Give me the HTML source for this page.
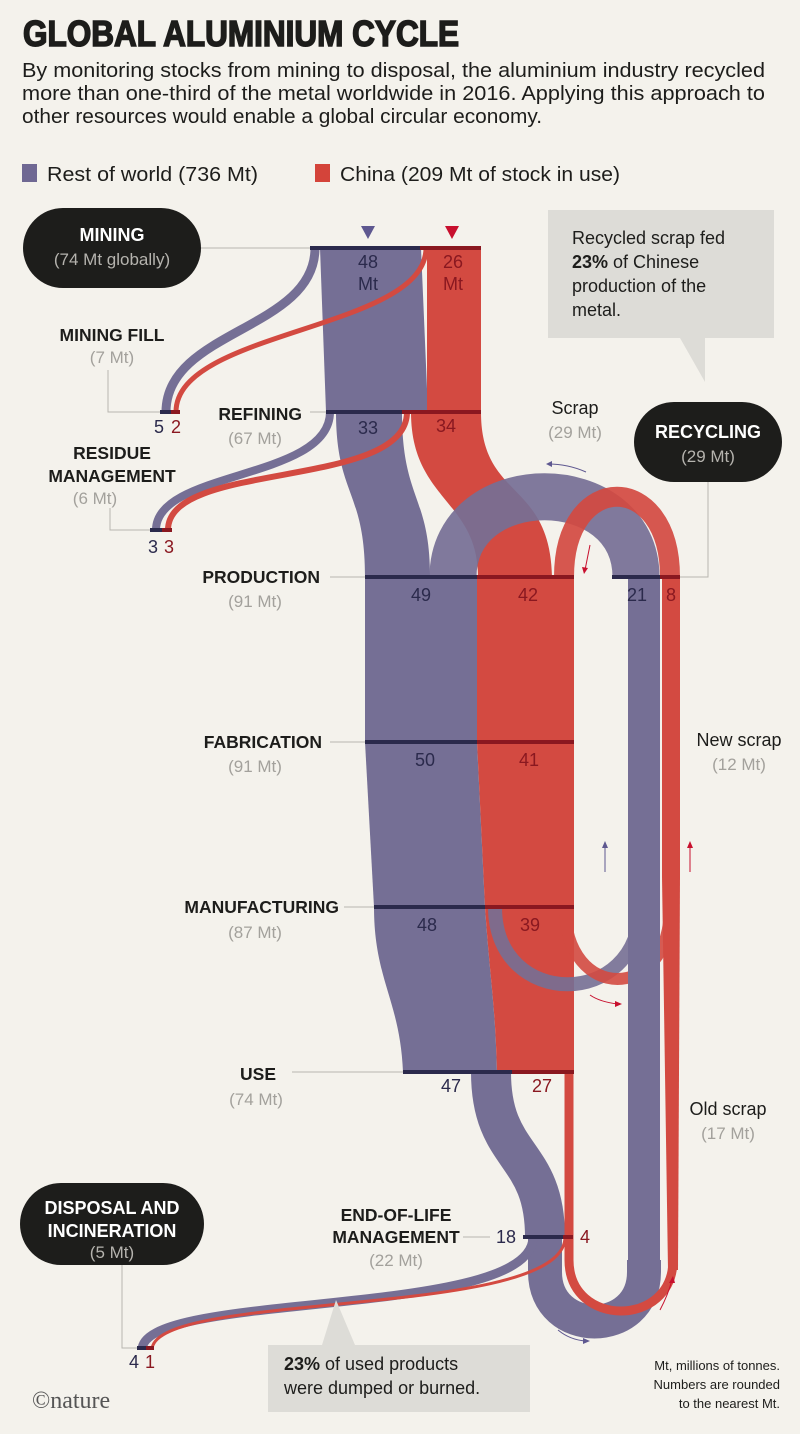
<!DOCTYPE html>
<html><head><meta charset="utf-8"><style>
html,body{margin:0;padding:0;background:#f4f2ec;}
svg{display:block;}
text{font-family:"Liberation Sans Narrow","Liberation Sans",sans-serif;}
.t{font-size:20px;fill:#1d1d1b;}
.b{font-family:"Liberation Sans",sans-serif;font-weight:bold;font-size:17.5px;fill:#1d1d1b;}
.g{font-family:"Liberation Sans",sans-serif;font-size:17px;fill:#a3a19c;}
.w{font-family:"Liberation Sans",sans-serif;font-weight:bold;font-size:18px;fill:#fff;}
.wg{font-family:"Liberation Sans",sans-serif;font-size:17px;fill:#b5b3ae;}
.np{font-family:"Liberation Sans",sans-serif;font-size:18px;fill:#2b2a4c;}
.nr{font-family:"Liberation Sans",sans-serif;font-size:18px;fill:#8a1820;}
.c{font-family:"Liberation Sans",sans-serif;font-size:18px;fill:#1d1d1b;}
</style></head><body>
<svg width="800" height="1434" viewBox="0 0 800 1434" xmlns="http://www.w3.org/2000/svg">
<rect width="800" height="1434" fill="#f4f2ec"/>
<text x="23" y="46" textLength="436" lengthAdjust="spacingAndGlyphs" stroke="#1d1d1b" stroke-width="1.6" style="font-weight:bold;font-size:36px;fill:#1d1d1b">GLOBAL ALUMINIUM CYCLE</text>
<text class="t" x="22" y="77" textLength="743" lengthAdjust="spacingAndGlyphs">By monitoring stocks from mining to disposal, the aluminium industry recycled</text>
<text class="t" x="22" y="100" textLength="743" lengthAdjust="spacingAndGlyphs">more than one-third of the metal worldwide in 2016. Applying this approach to</text>
<text class="t" x="22" y="123" textLength="520" lengthAdjust="spacingAndGlyphs">other resources would enable a global circular economy.</text>
<rect x="22" y="164" width="15" height="18" fill="#6f6893"/>
<text class="t" x="47" y="181" textLength="211" lengthAdjust="spacingAndGlyphs">Rest of world (736 Mt)</text>
<rect x="315" y="164" width="15" height="18" fill="#d4443a"/>
<text class="t" x="340" y="181" textLength="280" lengthAdjust="spacingAndGlyphs">China (209 Mt of stock in use)</text>

<g stroke="#b8b6b0" stroke-width="1" fill="none">
<line x1="200" y1="248" x2="310" y2="248"/>
<polyline points="108,370 108,412 160,412"/>
<line x1="310" y1="412" x2="326" y2="412"/>
<polyline points="110,508 110,530 150,530"/>
<line x1="330" y1="577" x2="365" y2="577"/>
<line x1="330" y1="742" x2="365" y2="742"/>
<line x1="344" y1="907" x2="374" y2="907"/>
<line x1="292" y1="1072" x2="403" y2="1072"/>
<line x1="463" y1="1237" x2="490" y2="1237"/>
<polyline points="122,1265 122,1348 137,1348"/>
<polyline points="680,577 708,577 708,482"/>
</g>

<g>
<path d="M315,248 C315,330 166,330 166,412" stroke="#756f95" stroke-width="9" fill="none"/>
<path d="M330,412 C330,480 156,470 156,530" stroke="#756f95" stroke-width="8" fill="none"/>
<path d="M320,248 L421,248 L428,412 L326,412 Z" fill="#756f95"/>
<path d="M427,248 L481,248 L481,412 L427,412 Z" fill="#d34a41"/>
<path d="M336,412 L402,412 C402,500 430,495 430,577 L365,577 C365,490 336,495 336,412 Z" fill="#756f95"/>
<path d="M411,412 L481,412 C481,500 550,480 552,577 L478,577 C478,500 411,500 411,412 Z" fill="#d34a41"/>
<path d="M426,248 C426,330 176,330 176,412" stroke="#d34a41" stroke-width="5" fill="none"/>
<path d="M407,412 C407,490 168,460 168,530" stroke="#d34a41" stroke-width="6" fill="none"/>
<path d="M636,577 C636,470 453,470 453,577" stroke="#756f95" stroke-width="47" fill="none" opacity="0.92"/>
<path d="M670,577 C670,470 564,470 564,577" stroke="#d34a41" stroke-width="20" fill="none" opacity="0.92"/>
<rect x="365" y="577" width="112" height="165" fill="#756f95"/>
<rect x="477" y="577" width="97" height="165" fill="#d34a41"/>
<path d="M365,742 L477,742 L485,907 L374,907 Z" fill="#756f95"/>
<path d="M477,742 L574,742 L574,907 L485,907 Z" fill="#d34a41"/>
<path d="M374,907 L485,907 C490,980 495,1000 497,1072 L403,1072 C400,1000 374,980 374,907 Z" fill="#756f95"/>
<path d="M485,907 L574,907 L574,1072 L497,1072 C495,1000 490,980 485,907 Z" fill="#d34a41"/>
<path d="M495,907 C495,1010 640,1010 640,907" stroke="#756f95" stroke-width="14" fill="none" opacity="0.9"/>
<path d="M565,907 C565,1003 670,1003 670,907" stroke="#d34a41" stroke-width="12" fill="none" opacity="0.9"/>
<rect x="628" y="577" width="32" height="700" fill="#756f95"/>
<rect x="662" y="577" width="18" height="300" fill="#d34a41"/>
<path d="M662,877 L680,877 L678,1270 L668,1270 Z" fill="#d34a41"/>
<path d="M491,1072 C491,1160 545,1150 545,1237" stroke="#756f95" stroke-width="40" fill="none"/>
<path d="M545,1230 L545,1272 C545,1338 644,1338 644,1272 L644,1260" stroke="#756f95" stroke-width="34" fill="none"/>
<path d="M569,1072 L569,1260 C569,1328 673,1328 673,1260" stroke="#d34a41" stroke-width="9" fill="none"/>
<path d="M533,1237 C533,1320 142,1290 142,1350" stroke="#756f95" stroke-width="9" fill="none"/>
<path d="M565,1237 C565,1320 152,1290 152,1350" stroke="#d34a41" stroke-width="3" fill="none"/>
</g>

<g stroke-width="4">
<line x1="310" y1="248" x2="420" y2="248" stroke="#2b2a4c"/>
<line x1="420" y1="248" x2="481" y2="248" stroke="#8a1820"/>
<line x1="160" y1="412" x2="171" y2="412" stroke="#2b2a4c"/>
<line x1="171" y1="412" x2="180" y2="412" stroke="#8a1820"/>
<line x1="326" y1="412" x2="402" y2="412" stroke="#2b2a4c"/>
<line x1="402" y1="412" x2="481" y2="412" stroke="#8a1820"/>
<line x1="150" y1="530" x2="162" y2="530" stroke="#2b2a4c"/>
<line x1="162" y1="530" x2="172" y2="530" stroke="#8a1820"/>
<line x1="365" y1="577" x2="477" y2="577" stroke="#2b2a4c"/>
<line x1="477" y1="577" x2="574" y2="577" stroke="#8a1820"/>
<line x1="612" y1="577" x2="660" y2="577" stroke="#2b2a4c"/>
<line x1="660" y1="577" x2="680" y2="577" stroke="#8a1820"/>
<line x1="365" y1="742" x2="477" y2="742" stroke="#2b2a4c"/>
<line x1="477" y1="742" x2="574" y2="742" stroke="#8a1820"/>
<line x1="374" y1="907" x2="485" y2="907" stroke="#2b2a4c"/>
<line x1="485" y1="907" x2="574" y2="907" stroke="#8a1820"/>
<line x1="403" y1="1072" x2="512" y2="1072" stroke="#2b2a4c"/>
<line x1="512" y1="1072" x2="574" y2="1072" stroke="#8a1820"/>
<line x1="523" y1="1237" x2="563" y2="1237" stroke="#2b2a4c"/>
<line x1="563" y1="1237" x2="573" y2="1237" stroke="#8a1820"/>
<line x1="137" y1="1348" x2="146" y2="1348" stroke="#2b2a4c"/>
<line x1="146" y1="1348" x2="154" y2="1348" stroke="#8a1820"/>
</g>
<polygon points="361,226 375,226 368,239" fill="#5e5890"/>
<polygon points="445,226 459,226 452,239" fill="#c8102e"/>

<g fill="none" stroke-width="1">
<path d="M586,472 Q568,464 548,464" stroke="#5e5890"/><polygon points="546,464 552,461 552,467" fill="#5e5890"/>
<path d="M590,545 L585,570" stroke="#c8102e"/><polygon points="584,574 582,567 588,568" fill="#c8102e"/>
<path d="M605,872 L605,845" stroke="#5e5890"/><polygon points="605,841 602,848 608,848" fill="#5e5890"/>
<path d="M690,872 L690,845" stroke="#c8102e"/><polygon points="690,841 687,848 693,848" fill="#c8102e"/>
<path d="M590,995 Q600,1002 618,1004" stroke="#c8102e"/><polygon points="622,1004 615,1001 615,1007" fill="#c8102e"/>
<path d="M558,1330 Q570,1340 586,1341" stroke="#5e5890"/><polygon points="590,1341 583,1338 583,1344" fill="#5e5890"/>
<path d="M660,1310 Q668,1295 672,1280" stroke="#c8102e"/><polygon points="673,1276 669,1283 675,1283" fill="#c8102e"/>
</g>

<text class="np" x="368" y="268" text-anchor="middle">48</text>
<text class="np" x="368" y="290" text-anchor="middle">Mt</text>
<text class="nr" x="453" y="268" text-anchor="middle">26</text>
<text class="nr" x="453" y="290" text-anchor="middle">Mt</text>
<text class="np" x="159" y="433" text-anchor="middle">5</text>
<text class="nr" x="176" y="433" text-anchor="middle">2</text>
<text class="np" x="368" y="434" text-anchor="middle">33</text>
<text class="nr" x="446" y="432" text-anchor="middle">34</text>
<text class="np" x="153" y="553" text-anchor="middle">3</text>
<text class="nr" x="169" y="553" text-anchor="middle">3</text>
<text class="np" x="421" y="601" text-anchor="middle">49</text>
<text class="nr" x="528" y="601" text-anchor="middle">42</text>
<text class="np" x="637" y="601" text-anchor="middle">21</text>
<text class="nr" x="671" y="601" text-anchor="middle">8</text>
<text class="np" x="425" y="766" text-anchor="middle">50</text>
<text class="nr" x="529" y="766" text-anchor="middle">41</text>
<text class="np" x="427" y="931" text-anchor="middle">48</text>
<text class="nr" x="530" y="931" text-anchor="middle">39</text>
<text class="np" x="451" y="1092" text-anchor="middle">47</text>
<text class="nr" x="542" y="1092" text-anchor="middle">27</text>
<text class="np" x="506" y="1243" text-anchor="middle">18</text>
<text class="nr" x="585" y="1243" text-anchor="middle">4</text>
<text class="np" x="134" y="1368" text-anchor="middle">4</text>
<text class="nr" x="150" y="1368" text-anchor="middle">1</text>

<text class="b" x="112" y="341" text-anchor="middle">MINING FILL</text>
<text class="g" x="112" y="363" text-anchor="middle">(7 Mt)</text>
<text class="b" x="302" y="420" text-anchor="end">REFINING</text>
<text class="g" x="255" y="444" text-anchor="middle">(67 Mt)</text>
<text class="b" x="112" y="459" text-anchor="middle">RESIDUE</text>
<text class="b" x="112" y="482" text-anchor="middle">MANAGEMENT</text>
<text class="g" x="95" y="504" text-anchor="middle">(6 Mt)</text>
<text class="b" x="320" y="583" text-anchor="end">PRODUCTION</text>
<text class="g" x="255" y="607" text-anchor="middle">(91 Mt)</text>
<text class="b" x="322" y="748" text-anchor="end">FABRICATION</text>
<text class="g" x="255" y="772" text-anchor="middle">(91 Mt)</text>
<text class="b" x="339" y="913" text-anchor="end">MANUFACTURING</text>
<text class="g" x="255" y="938" text-anchor="middle">(87 Mt)</text>
<text class="b" x="276" y="1080" text-anchor="end">USE</text>
<text class="g" x="256" y="1105" text-anchor="middle">(74 Mt)</text>
<text class="b" x="396" y="1221" text-anchor="middle">END-OF-LIFE</text>
<text class="b" x="396" y="1243" text-anchor="middle">MANAGEMENT</text>
<text class="g" x="396" y="1266" text-anchor="middle">(22 Mt)</text>
<text class="c" x="575" y="414" text-anchor="middle">Scrap</text>
<text class="g" x="575" y="438" text-anchor="middle">(29 Mt)</text>
<text class="c" x="739" y="746" text-anchor="middle">New scrap</text>
<text class="g" x="739" y="770" text-anchor="middle">(12 Mt)</text>
<text class="c" x="728" y="1115" text-anchor="middle">Old scrap</text>
<text class="g" x="728" y="1139" text-anchor="middle">(17 Mt)</text>

<rect x="23" y="208" width="178" height="80" rx="40" fill="#1d1d1b"/>
<text class="w" x="112" y="241" text-anchor="middle">MINING</text>
<text class="wg" x="112" y="265" text-anchor="middle">(74 Mt globally)</text>
<rect x="634" y="402" width="148" height="80" rx="40" fill="#1d1d1b"/>
<text class="w" x="708" y="438" text-anchor="middle">RECYCLING</text>
<text class="wg" x="708" y="462" text-anchor="middle">(29 Mt)</text>
<rect x="20" y="1183" width="184" height="82" rx="41" fill="#1d1d1b"/>
<text class="w" x="112" y="1214" text-anchor="middle">DISPOSAL AND</text>
<text class="w" x="112" y="1237" text-anchor="middle">INCINERATION</text>
<text class="wg" x="112" y="1258" text-anchor="middle">(5 Mt)</text>

<path d="M548,210 L774,210 L774,338 L705,338 L705,382 L680,338 L548,338 Z" fill="#dddcd7"/>
<text class="c" x="572" y="244">Recycled scrap fed</text>
<text class="c" x="572" y="268"><tspan font-weight="bold">23%</tspan> of Chinese</text>
<text class="c" x="572" y="292">production of the</text>
<text class="c" x="572" y="316">metal.</text>
<path d="M268,1345 L322,1345 L336,1300 L355,1345 L530,1345 L530,1412 L268,1412 Z" fill="#dddcd7"/>
<text class="c" x="284" y="1370"><tspan font-weight="bold">23%</tspan> of used products</text>
<text class="c" x="284" y="1394">were dumped or burned.</text>

<text x="780" y="1370" text-anchor="end" style="font-family:'Liberation Sans',sans-serif;font-size:13px;fill:#1d1d1b">Mt, millions of tonnes.</text>
<text x="780" y="1389" text-anchor="end" style="font-family:'Liberation Sans',sans-serif;font-size:13px;fill:#1d1d1b">Numbers are rounded</text>
<text x="780" y="1408" text-anchor="end" style="font-family:'Liberation Sans',sans-serif;font-size:13px;fill:#1d1d1b">to the nearest Mt.</text>
<text x="32" y="1408" style="font-family:'Liberation Serif',serif;font-size:24px;fill:#555">©nature</text>
</svg>
</body></html>
